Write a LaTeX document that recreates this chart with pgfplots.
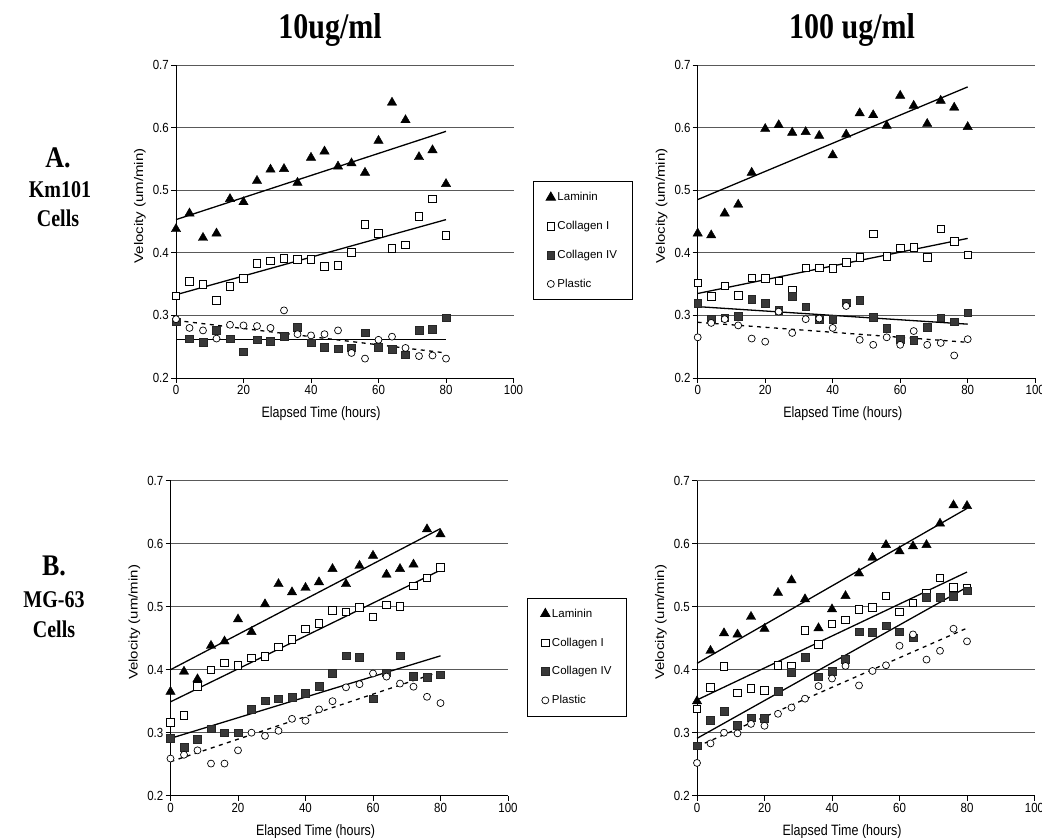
\documentclass[border=0pt]{standalone}
\usepackage{pgfplots}
\pgfplotsset{compat=1.18}
\usepackage{fontspec}
\setmainfont{Liberation Sans}
\newfontfamily\tfont{Liberation Serif}
\pgfplotsset{
  panel/.style={
    scale only axis, width=337.5pt,
    xmin=0, xmax=100, ymin=0.2, ymax=0.7,
    xtick={0,20,40,60,80,100}, ytick={0.2,0.3,0.4,0.5,0.6,0.7},
    axis x line*=bottom, axis y line*=left,
    axis line style={-, black, line width=0.8pt},
    tick align=outside, major tick length=5pt,
    major tick style={black, line width=0.8pt},
    ymajorgrids, major grid style={black!65, line width=0.8pt},
    /pgf/number format/assume math mode=true,
    xticklabel={\scalebox{1}[1.15]{\pgfmathprintnumber[fixed,precision=0]{\tick}}},
    yticklabel={\scalebox{1}[1.15]{\pgfmathprintnumber[fixed,fixed zerofill,precision=1]{\tick}}},
    ticklabel style={font=\fontsize{11.5}{12}\selectfont, inner sep=2pt},
    xlabel={\scalebox{1}[1.2]{Elapsed Time (hours)}},
    ylabel={\scalebox{1.2}[1]{Velocity (um/min)}},
    label style={font=\fontsize{12.5}{13}\selectfont},
    xlabel style={at={(axis description cs:0.43,-0.115)}, anchor=center},
    ylabel style={at={(axis description cs:-0.107,0.55)}, anchor=center},
    clip=false,
  },
  lam/.style={only marks, mark=triangle*, mark size=5.4pt, mark options={black, fill=black}},
  coli/.style={only marks, mark=square*, mark size=3.8pt, mark options={black, fill=white, line width=0.7pt}},
  coliv/.style={only marks, mark=square*, mark size=3.8pt, mark options={black!85, fill=black!78, line width=0.5pt}},
  plas/.style={only marks, mark=*, mark size=3.5pt, mark options={black, fill=white, line width=0.7pt}},
  trend/.style={black, line width=1.3pt, forget plot},
  dtrend/.style={black, line width=1.3pt, dash pattern=on 4pt off 4.5pt, forget plot},
  leg/.style={
    legend style={at={(axis description cs:1.057,0.629)}, anchor=north west,
      draw=black, line width=0.8pt, fill=white,
      font=\fontsize{11.5}{12}\selectfont,
      row sep=15pt, inner xsep=13pt, inner ysep=9pt,
      nodes={inner sep=2pt}},
    legend cell align=left,
    legend image code/.code={\draw[##1] plot coordinates {(3pt,0pt)};},
  },
}
\begin{document}
\begin{tikzpicture}[x=1pt,y=1pt]
\useasboundingbox (0pt,0pt) rectangle (1042pt,838pt);
% titles
\node[font=\tfont\bfseries\fontsize{30}{30}\selectfont] at (330pt,808pt) {\scalebox{1}[1.2]{10ug/ml}};
\node[font=\tfont\bfseries\fontsize{30}{30}\selectfont] at (852pt,808pt) {\scalebox{1}[1.2]{100 ug/ml}};
\node[font=\tfont\bfseries\fontsize{26}{26}\selectfont] at (58pt,680pt) {\scalebox{1}[1.15]{A.}};
\node[font=\tfont\bfseries\fontsize{20}{20}\selectfont] at (60pt,648pt) {\scalebox{1}[1.2]{Km101}};
\node[font=\tfont\bfseries\fontsize{20}{20}\selectfont] at (58pt,620pt) {\scalebox{1}[1.2]{Cells}};
\node[font=\tfont\bfseries\fontsize{26}{26}\selectfont] at (54pt,272pt) {\scalebox{1}[1.15]{B.}};
\node[font=\tfont\bfseries\fontsize{20}{20}\selectfont] at (54pt,238pt) {\scalebox{1}[1.2]{MG-63}};
\node[font=\tfont\bfseries\fontsize{20}{20}\selectfont] at (54pt,209pt) {\scalebox{1}[1.2]{Cells}};

% ---------- A left ----------
\begin{axis}[panel, leg, height=313pt, at={(176pt,460pt)}, anchor=south west]
\addplot[lam] coordinates {(0,0.438)(4,0.463)(8,0.424)(12,0.431)(16,0.486)(20,0.481)(24,0.515)(28,0.533)(32,0.534)(36,0.512)(40,0.552)(44,0.562)(48,0.538)(52,0.543)(56,0.528)(60,0.579)(64,0.640)(68,0.612)(72,0.553)(76,0.564)(80,0.510)};
\addlegendentry{Laminin}
\addplot[coli] coordinates {(0,0.331)(4,0.354)(8,0.350)(12,0.324)(16,0.346)(20,0.359)(24,0.383)(28,0.387)(32,0.391)(36,0.390)(40,0.390)(44,0.378)(48,0.380)(52,0.401)(56,0.445)(60,0.431)(64,0.407)(68,0.413)(72,0.458)(76,0.486)(80,0.428)};
\addlegendentry{Collagen I}
\addplot[coliv] coordinates {(0,0.290)(4,0.263)(8,0.257)(12,0.276)(16,0.263)(20,0.242)(24,0.261)(28,0.259)(32,0.267)(36,0.281)(40,0.256)(44,0.249)(48,0.247)(52,0.248)(56,0.272)(60,0.249)(64,0.246)(68,0.237)(72,0.276)(76,0.278)(80,0.296)};
\addlegendentry{Collagen IV}
\addplot[plas] coordinates {(0,0.294)(4,0.280)(8,0.276)(12,0.263)(16,0.285)(20,0.284)(24,0.283)(28,0.280)(32,0.308)(36,0.270)(40,0.268)(44,0.270)(48,0.276)(52,0.240)(56,0.231)(60,0.261)(64,0.266)(68,0.248)(72,0.235)(76,0.236)(80,0.231)};
\addlegendentry{Plastic}
\addplot[trend] coordinates {(0,0.453)(80,0.594)};
\addplot[trend] coordinates {(0,0.333)(80,0.453)};
\addplot[trend] coordinates {(0,0.262)(80,0.262)};
\addplot[dtrend] coordinates {(0,0.292)(80,0.240)};
\end{axis}

% ---------- A right ----------
\begin{axis}[panel, height=313pt, at={(697.7pt,460pt)}, anchor=south west]
\addplot[lam] coordinates {(0,0.431)(4,0.428)(8,0.463)(12,0.477)(16,0.528)(20,0.598)(24,0.604)(28,0.592)(32,0.593)(36,0.587)(40,0.556)(44,0.589)(48,0.623)(52,0.620)(56,0.603)(60,0.651)(64,0.635)(68,0.606)(72,0.643)(76,0.632)(80,0.601)};
\addplot[coli] coordinates {(0,0.352)(4,0.330)(8,0.347)(12,0.332)(16,0.360)(20,0.359)(24,0.355)(28,0.341)(32,0.376)(36,0.376)(40,0.375)(44,0.385)(48,0.393)(52,0.430)(56,0.394)(60,0.408)(64,0.409)(68,0.393)(72,0.438)(76,0.418)(80,0.397)};
\addplot[coliv] coordinates {(0,0.319)(4,0.294)(8,0.296)(12,0.299)(16,0.326)(20,0.319)(24,0.308)(28,0.331)(32,0.314)(36,0.294)(40,0.294)(44,0.320)(48,0.324)(52,0.297)(56,0.279)(60,0.262)(64,0.260)(68,0.281)(72,0.296)(76,0.290)(80,0.304)};
\addplot[plas] coordinates {(0,0.265)(4,0.288)(8,0.294)(12,0.284)(16,0.263)(20,0.258)(24,0.306)(28,0.272)(32,0.294)(36,0.295)(40,0.280)(44,0.315)(48,0.261)(52,0.253)(56,0.265)(60,0.253)(64,0.275)(68,0.253)(72,0.256)(76,0.236)(80,0.262)};
\addplot[trend] coordinates {(0,0.485)(80,0.665)};
\addplot[trend] coordinates {(0,0.335)(80,0.423)};
\addplot[trend] coordinates {(0,0.314)(80,0.286)};
\addplot[dtrend] coordinates {(0,0.289)(80,0.257)};
\end{axis}

% ---------- B left ----------
\begin{axis}[panel, leg, height=315pt, at={(170.5pt,42.3pt)}, anchor=south west]
\addplot[lam] coordinates {(0,0.365)(4,0.397)(8,0.385)(12,0.438)(16,0.445)(20,0.480)(24,0.460)(28,0.504)(32,0.536)(36,0.523)(40,0.530)(44,0.539)(48,0.560)(52,0.536)(56,0.565)(60,0.581)(64,0.551)(68,0.560)(72,0.567)(76,0.623)(80,0.615)};
\addlegendentry{Laminin}
\addplot[coli] coordinates {(0,0.316)(4,0.328)(8,0.374)(12,0.400)(16,0.411)(20,0.407)(24,0.419)(28,0.421)(32,0.436)(36,0.448)(40,0.465)(44,0.474)(48,0.494)(52,0.492)(56,0.499)(60,0.484)(64,0.503)(68,0.501)(72,0.533)(76,0.546)(80,0.562)};
\addlegendentry{Collagen I}
\addplot[coliv] coordinates {(0,0.291)(4,0.277)(8,0.290)(12,0.306)(16,0.300)(20,0.300)(24,0.337)(28,0.351)(32,0.354)(36,0.356)(40,0.363)(44,0.374)(48,0.394)(52,0.422)(56,0.420)(60,0.354)(64,0.395)(68,0.422)(72,0.390)(76,0.388)(80,0.392)};
\addlegendentry{Collagen IV}
\addplot[plas] coordinates {(0,0.259)(4,0.265)(8,0.272)(12,0.251)(16,0.251)(20,0.272)(24,0.300)(28,0.295)(32,0.303)(36,0.322)(40,0.319)(44,0.337)(48,0.350)(52,0.372)(56,0.377)(60,0.394)(64,0.389)(68,0.378)(72,0.373)(76,0.357)(80,0.347)};
\addlegendentry{Plastic}
\addplot[trend] coordinates {(0,0.400)(80,0.624)};
\addplot[trend] coordinates {(0,0.349)(80,0.558)};
\addplot[trend] coordinates {(0,0.291)(80,0.422)};
\addplot[dtrend] coordinates {(0,0.254)(80,0.397)};
\end{axis}

% ---------- B right ----------
\begin{axis}[panel, height=315pt, at={(697pt,42.3pt)}, anchor=south west]
\addplot[lam] coordinates {(0,0.350)(4,0.430)(8,0.458)(12,0.456)(16,0.484)(20,0.465)(24,0.522)(28,0.542)(32,0.512)(36,0.466)(40,0.496)(44,0.517)(48,0.553)(52,0.578)(56,0.598)(60,0.588)(64,0.596)(68,0.598)(72,0.632)(76,0.661)(80,0.660)};
\addplot[coli] coordinates {(0,0.338)(4,0.372)(8,0.405)(12,0.363)(16,0.370)(20,0.367)(24,0.407)(28,0.405)(32,0.462)(36,0.440)(40,0.473)(44,0.479)(48,0.496)(52,0.499)(56,0.517)(60,0.492)(64,0.506)(68,0.522)(72,0.546)(76,0.531)(80,0.530)};
\addplot[coliv] coordinates {(0,0.279)(4,0.320)(8,0.334)(12,0.312)(16,0.324)(20,0.323)(24,0.366)(28,0.396)(32,0.420)(36,0.389)(40,0.398)(44,0.417)(48,0.460)(52,0.459)(56,0.470)(60,0.460)(64,0.451)(68,0.515)(72,0.515)(76,0.517)(80,0.525)};
\addplot[plas] coordinates {(0,0.252)(4,0.283)(8,0.300)(12,0.299)(16,0.314)(20,0.311)(24,0.330)(28,0.340)(32,0.354)(36,0.374)(40,0.386)(44,0.406)(48,0.375)(52,0.398)(56,0.407)(60,0.438)(64,0.456)(68,0.416)(72,0.430)(76,0.465)(80,0.445)};
\addplot[trend] coordinates {(0,0.410)(80,0.656)};
\addplot[trend] coordinates {(0,0.352)(80,0.555)};
\addplot[trend] coordinates {(0,0.291)(80,0.531)};
\addplot[dtrend] coordinates {(0,0.278)(80,0.466)};
\end{axis}
\end{tikzpicture}
\end{document}
